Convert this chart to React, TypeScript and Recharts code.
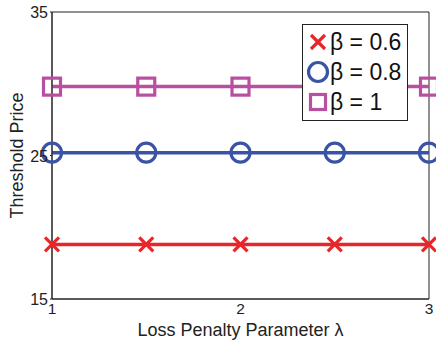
import React from "react";
import { LineChart, Line, XAxis, YAxis, ReferenceArea } from "recharts";

const lambdas = [1, 1.5, 2, 2.5, 3];
const beta06 = [18.8, 18.8, 18.8, 18.8, 18.8];
const beta08 = [25.2, 25.2, 25.2, 25.2, 25.2];
const beta1 = [29.8, 29.8, 29.8, 29.8, 29.8];
const xTicks = [1, 2, 3];
const yTicks = [15, 25, 35];

const RED = "#e8262a";
const BLUE = "#3a53a4";
const MAGENTA = "#b94fa0";
const FONT = "'Liberation Sans', Arial, sans-serif";

const data = lambdas.map((l, i) => ({
  lambda: l,
  b06: beta06[i],
  b08: beta08[i],
  b1: beta1[i],
}));

const CrossMark = ({ cx, cy, color, size = 7 }: any) => (
  <g>
    <line x1={cx - size} y1={cy - size} x2={cx + size} y2={cy + size} stroke={color} strokeWidth={3.2} />
    <line x1={cx - size} y1={cy + size} x2={cx + size} y2={cy - size} stroke={color} strokeWidth={3.2} />
  </g>
);
const CircleMark = ({ cx, cy, color, r = 9.5 }: any) => (
  <circle cx={cx} cy={cy} r={r} fill="none" stroke={color} strokeWidth={3.2} />
);
const SquareMark = ({ cx, cy, color, h = 8.5 }: any) => (
  <rect x={cx - h} y={cy - h} width={2 * h} height={2 * h} fill="none" stroke={color} strokeWidth={3.2} />
);

const legendItems = [
  { label: "β = 0.6", kind: "x", color: RED },
  { label: "β = 0.8", kind: "o", color: BLUE },
  { label: "β = 1", kind: "s", color: MAGENTA },
];

const LegendBox = () => (
  <div
    style={{
      position: "absolute",
      left: 302,
      top: 24,
      width: 106,
      height: 97,
      border: "1px solid #222",
      background: "#fff",
      boxSizing: "border-box",
      fontFamily: FONT,
    }}
  >
    {legendItems.map((it, i) => (
      <div key={it.label} style={{ display: "flex", alignItems: "center", height: 30, marginTop: i === 0 ? 2 : 0 }}>
        <svg width={27} height={30} style={{ display: "block" }}>
          {it.kind === "x" && <CrossMark cx={15} cy={15} color={it.color} />}
          {it.kind === "o" && <CircleMark cx={15} cy={15} color={it.color} />}
          {it.kind === "s" && <SquareMark cx={15} cy={15} color={it.color} h={7.5} />}
        </svg>
        <span style={{ fontSize: 23, color: "#111", lineHeight: "30px" }}>{it.label}</span>
      </div>
    ))}
  </div>
);

const XTick = ({ x, y, payload }: any) => (
  <text x={x} y={y + 13} textAnchor="middle" fontSize={15.5} fill="#222" fontFamily={FONT}>
    {payload.value}
  </text>
);
const YTick = ({ x, y, payload }: any) => (
  <text x={x} y={y + 6} textAnchor="end" fontSize={16} fill="#222" fontFamily={FONT}>
    {payload.value}
  </text>
);

export default function App() {
  return (
    <div style={{ position: "absolute", left: 0, top: 0, width: 436, height: 340, background: "#fff" }}>
      <LineChart width={436} height={340} data={data} margin={{ top: 12, right: 7, left: 0, bottom: 0 }}>
        <XAxis
          dataKey="lambda"
          type="number"
          domain={[1, 3]}
          ticks={xTicks}
          tick={<XTick />}
          tickSize={0}
          height={41}
          stroke="#222"
          label={{ value: "Loss Penalty Parameter λ", position: "insideBottom", offset: 4, fontSize: 18, fill: "#222", fontFamily: FONT }}
        />
        <YAxis
          type="number"
          domain={[15, 35]}
          ticks={yTicks}
          tick={<YTick />}
          tickSize={2}
          width={52}
          stroke="#222"
          label={{ value: "Threshold Price", angle: -90, position: "insideLeft", offset: 17, fontSize: 18, fill: "#222", fontFamily: FONT, style: { textAnchor: "middle" } }}
        />
        <ReferenceArea x1={1} x2={3} y1={15} y2={35} fill="none" stroke="#222" strokeWidth={1} />
        <Line dataKey="b06" stroke={RED} strokeWidth={3.5} isAnimationActive={false} dot={(p: any) => <CrossMark key={p.index} cx={p.cx} cy={p.cy} color={RED} />} />
        <Line dataKey="b08" stroke={BLUE} strokeWidth={3.5} isAnimationActive={false} dot={(p: any) => <CircleMark key={p.index} cx={p.cx} cy={p.cy} color={BLUE} />} />
        <Line dataKey="b1" stroke={MAGENTA} strokeWidth={3.5} isAnimationActive={false} dot={(p: any) => <SquareMark key={p.index} cx={p.cx} cy={p.cy} color={MAGENTA} />} />
      </LineChart>
      <LegendBox />
    </div>
  );
}
